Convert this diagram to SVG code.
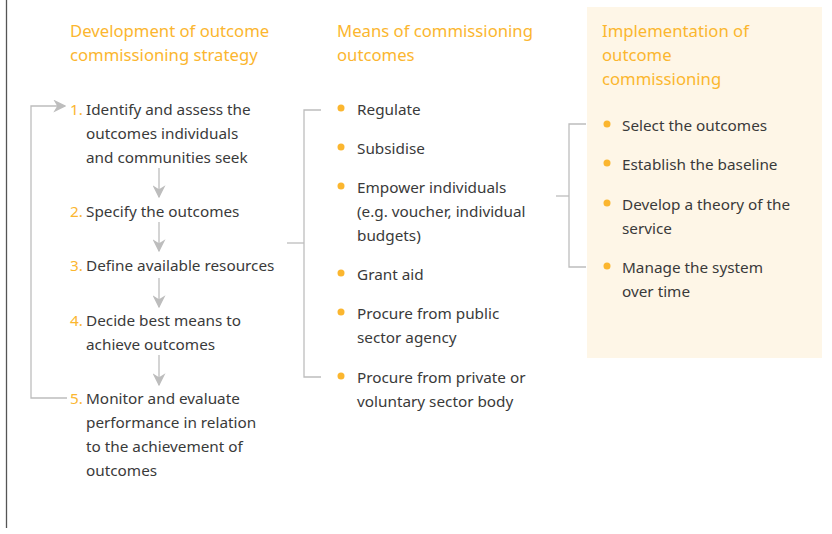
<svg xmlns="http://www.w3.org/2000/svg" width="832" height="534" viewBox="0 0 832 534">
<style>
text{font-family:"Noto Sans","Open Sans",sans-serif;font-size:15.3px;fill:#3a3a3a}
.h{fill:#fbb62f;font-size:16.7px}
.n{fill:#fbb62f}
.ln{stroke:#bdbdbd;stroke-width:1.3;fill:none}
.dot{fill:#fbb62f}
</style>
<defs>
<marker id="ah" viewBox="0 0 10 10" refX="9" refY="5" markerWidth="13" markerHeight="13" markerUnits="userSpaceOnUse" orient="auto">
<path d="M0,0 L10,5 L0,10 L3,5 Z" fill="#bdbdbd"/>
</marker>
</defs>
<rect x="0" y="0" width="832" height="534" fill="#fff"/>
<line x1="6.5" y1="0" x2="6.5" y2="528" stroke="#555" stroke-width="1.3"/>
<rect x="587" y="7" width="235" height="351" fill="#fef6e7"/>

<g id="col1-heading"><text class="h" x="70" y="37">Development of outcome</text><text class="h" x="70" y="61">commissioning strategy</text></g>
<g id="col2-heading"><text class="h" x="337" y="37">Means of commissioning</text><text class="h" x="337" y="61">outcomes</text></g>
<g id="col3-heading"><text class="h" x="602" y="37">Implementation of</text><text class="h" x="602" y="61">outcome</text><text class="h" x="602" y="85">commissioning</text></g>

<g id="step1"><text class="n" x="70" y="115">1.</text><text x="86" y="115">Identify and assess the</text><text x="86" y="139">outcomes individuals</text><text x="86" y="163">and communities seek</text></g>
<g id="step2"><text class="n" x="70" y="217">2.</text><text x="86" y="217">Specify the outcomes</text></g>
<g id="step3"><text class="n" x="70" y="271">3.</text><text x="86" y="271">Define available resources</text></g>
<g id="step4"><text class="n" x="70" y="326">4.</text><text x="86" y="326">Decide best means to</text><text x="86" y="350">achieve outcomes</text></g>
<g id="step5"><text class="n" x="70" y="404">5.</text><text x="86" y="404">Monitor and evaluate</text><text x="86" y="428">performance in relation</text><text x="86" y="452">to the achievement of</text><text x="86" y="476">outcomes</text></g>

<g id="means">
<circle class="dot" cx="341" cy="108" r="3.5"/><text x="357" y="115">Regulate</text>
<circle class="dot" cx="341" cy="147" r="3.5"/><text x="357" y="154">Subsidise</text>
<circle class="dot" cx="341" cy="186" r="3.5"/><text x="357" y="193">Empower individuals</text><text x="357" y="217">(e.g. voucher, individual</text><text x="357" y="241">budgets)</text>
<circle class="dot" cx="341" cy="273" r="3.5"/><text x="357" y="280">Grant aid</text>
<circle class="dot" cx="341" cy="312" r="3.5"/><text x="357" y="319">Procure from public</text><text x="357" y="343">sector agency</text>
<circle class="dot" cx="341" cy="376" r="3.5"/><text x="357" y="383">Procure from private or</text><text x="357" y="407">voluntary sector body</text>
</g>

<g id="implementation">
<circle class="dot" cx="607" cy="124" r="3.5"/><text x="622" y="131">Select the outcomes</text>
<circle class="dot" cx="607" cy="163" r="3.5"/><text x="622" y="170">Establish the baseline</text>
<circle class="dot" cx="607" cy="203" r="3.5"/><text x="622" y="210">Develop a theory of the</text><text x="622" y="234">service</text>
<circle class="dot" cx="607" cy="266" r="3.5"/><text x="622" y="273">Manage the system</text><text x="622" y="297">over time</text>
</g>

<g id="connectors">
<line class="ln" x1="159" y1="168" x2="159" y2="197" marker-end="url(#ah)"/>
<line class="ln" x1="159" y1="222" x2="159" y2="251" marker-end="url(#ah)"/>
<line class="ln" x1="159" y1="278" x2="159" y2="307" marker-end="url(#ah)"/>
<line class="ln" x1="159" y1="355" x2="159" y2="385" marker-end="url(#ah)"/>
<polyline class="ln" points="67,398 31,398 31,106 65,106" marker-end="url(#ah)"/>
<polyline class="ln" points="321,110 304,110 304,377 321,377"/>
<line class="ln" x1="287" y1="243" x2="304" y2="243"/>
<polyline class="ln" points="586,124 569,124 569,267 586,267"/>
<line class="ln" x1="556" y1="196" x2="569" y2="196"/>
</g>
</svg>
